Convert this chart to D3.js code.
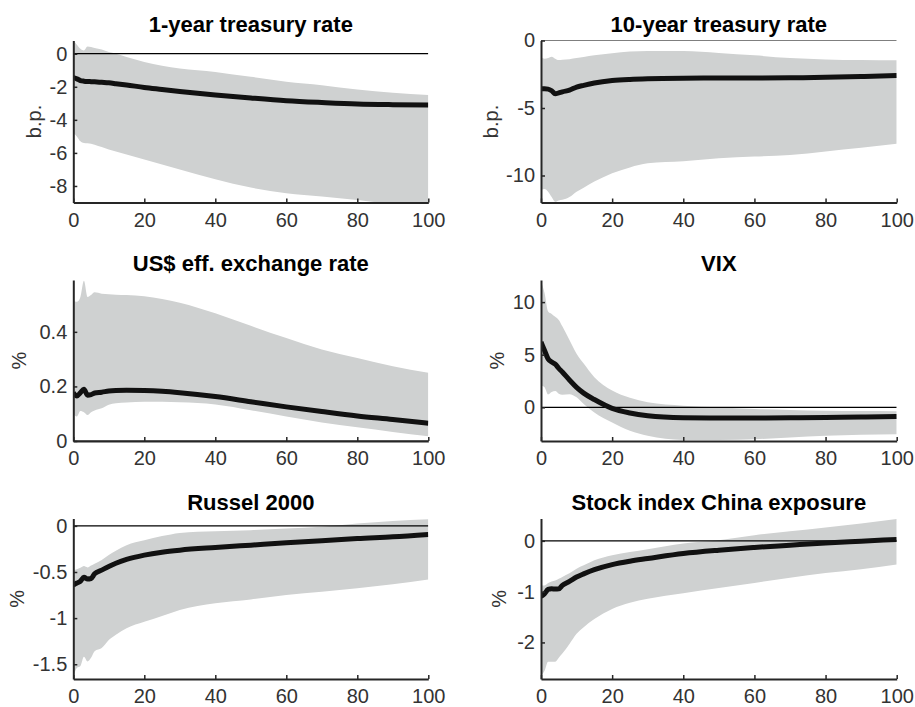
<!DOCTYPE html>
<html><head><meta charset="utf-8">
<script src="https://cdn.jsdelivr.net/npm/d3@7/dist/d3.min.js"></script>
<style>
body{margin:0;background:#fff;}
svg{display:block;font-family:"Liberation Sans",Arial,Helvetica,sans-serif;}
</style></head>
<body><svg id="chart" width="915" height="707"></svg>
<script>
// ---- data ----
const horizons = [0,1,2,3,4,5,6,8,10,12,15,20,25,30,40,50,60,70,80,90,100];
const xTicks = [0,20,40,60,80,100];

const titles = ["1-year treasury rate","10-year treasury rate","US$ eff. exchange rate","VIX","Russel 2000","Stock index China exposure"];
const units = ["b.p.","b.p.","%","%","%","%"];

const oneYearMean  = [-1.44,-1.52,-1.62,-1.66,-1.68,-1.69,-1.70,-1.73,-1.76,-1.81,-1.89,-2.04,-2.16,-2.28,-2.50,-2.68,-2.84,-2.95,-3.04,-3.08,-3.10];
const oneYearUpper = [0.80,0.55,0.30,0.20,0.44,0.40,0.35,0.25,0.10,0.00,-0.20,-0.50,-0.72,-0.90,-1.10,-1.40,-1.70,-1.90,-2.16,-2.36,-2.50];
const oneYearLower = [-4.80,-5.00,-5.30,-5.40,-5.42,-5.45,-5.50,-5.65,-5.80,-5.92,-6.10,-6.40,-6.70,-7.00,-7.60,-8.10,-8.44,-8.64,-8.85,-9.10,-9.30];

const tenYearMean  = [-3.58,-3.58,-3.60,-3.72,-3.95,-3.88,-3.80,-3.68,-3.45,-3.32,-3.15,-2.97,-2.88,-2.83,-2.79,-2.78,-2.78,-2.76,-2.73,-2.67,-2.60];
const tenYearUpper = [-1.20,-1.35,-1.30,-1.20,-1.35,-1.45,-1.42,-1.38,-1.30,-1.22,-1.10,-0.95,-0.82,-0.78,-0.78,-0.92,-1.10,-1.30,-1.40,-1.45,-1.47];
const tenYearLower = [-11.08,-11.00,-11.20,-11.60,-11.95,-11.85,-11.80,-11.60,-11.20,-10.90,-10.45,-9.83,-9.40,-9.10,-8.95,-8.72,-8.60,-8.48,-8.22,-7.95,-7.65];

const usdMean  = [0.177,0.165,0.177,0.190,0.168,0.170,0.176,0.179,0.183,0.185,0.186,0.185,0.182,0.177,0.163,0.144,0.125,0.108,0.092,0.079,0.065];
const usdUpper = [0.516,0.510,0.528,0.587,0.528,0.535,0.545,0.540,0.538,0.536,0.535,0.530,0.520,0.507,0.468,0.422,0.377,0.335,0.304,0.274,0.250];
const usdLower = [0.098,0.090,0.110,0.105,0.095,0.105,0.112,0.120,0.133,0.138,0.141,0.144,0.144,0.142,0.134,0.113,0.090,0.068,0.050,0.033,0.017];

const vixMean  = [6.20,5.40,4.60,4.30,4.10,3.70,3.35,2.60,1.90,1.35,0.74,-0.10,-0.54,-0.80,-0.99,-1.02,-1.02,-1.00,-0.96,-0.92,-0.86];
const vixUpper = [11.97,10.86,9.10,8.88,8.60,8.30,7.70,6.40,5.10,4.16,2.87,1.60,0.90,0.48,0.16,0.00,-0.16,-0.25,-0.32,-0.36,-0.38];
const vixLower = [2.08,1.90,1.22,1.45,1.55,1.30,1.20,1.25,0.96,0.32,-0.48,-1.44,-2.23,-2.71,-3.10,-3.10,-3.03,-2.87,-2.71,-2.60,-2.55];

const russelMean  = [-0.642,-0.620,-0.600,-0.558,-0.575,-0.570,-0.520,-0.480,-0.440,-0.405,-0.364,-0.317,-0.285,-0.263,-0.234,-0.209,-0.184,-0.162,-0.137,-0.119,-0.093];
const russelUpper = [-0.480,-0.470,-0.455,-0.436,-0.450,-0.430,-0.410,-0.370,-0.317,-0.270,-0.209,-0.155,-0.111,-0.076,-0.057,-0.047,-0.028,-0.010,0.026,0.054,0.072];
const russelLower = [-1.634,-1.540,-1.520,-1.420,-1.470,-1.430,-1.360,-1.325,-1.237,-1.180,-1.110,-1.040,-0.977,-0.912,-0.840,-0.797,-0.750,-0.714,-0.677,-0.634,-0.580];

const chinaMean  = [-1.095,-1.040,-0.957,-0.945,-0.950,-0.945,-0.877,-0.798,-0.713,-0.650,-0.567,-0.467,-0.400,-0.349,-0.250,-0.184,-0.131,-0.085,-0.040,-0.006,0.027];
const chinaUpper = [-0.877,-0.877,-0.830,-0.800,-0.780,-0.745,-0.710,-0.640,-0.547,-0.480,-0.382,-0.283,-0.220,-0.164,-0.052,0.013,0.112,0.190,0.264,0.343,0.430];
const chinaLower = [-2.660,-2.560,-2.380,-2.380,-2.380,-2.300,-2.220,-2.030,-1.830,-1.700,-1.540,-1.340,-1.220,-1.140,-1.030,-0.930,-0.830,-0.725,-0.634,-0.560,-0.467];

const yDomains = [[-9,0.8],[-12,0],[0,0.59],[-3.2,12.1],[-1.66,0.08],[-2.72,0.44]];
const yTicks = [[-8,-6,-4,-2,0],[-10,-5,0],[0,0.2,0.4],[0,5,10],[-1.5,-1,-0.5,0],[-2,-1,0]];

const means  = [oneYearMean, tenYearMean, usdMean, vixMean, russelMean, chinaMean];
const uppers = [oneYearUpper, tenYearUpper, usdUpper, vixUpper, russelUpper, chinaUpper];
const lowers = [oneYearLower, tenYearLower, usdLower, vixLower, russelLower, chinaLower];

// ---- layout ----
const colX = [[73.3,428.3],[541,896.7]];
const rowY = [[40.5,202.5],[280,441],[518.5,679]];
const ylabOffset = [-32,-43,-47,-37,-49,-35];

const svg = d3.select("#chart");
const axisColor = "#262626";

titles.forEach((t,i)=>{
  const c = colX[i%2], r = rowY[Math.floor(i/2)];
  const x = d3.scaleLinear().domain([0,100]).range(c);
  const y = d3.scaleLinear().domain(yDomains[i]).range([r[1],r[0]]);
  const g = svg.append("g");
  const cid = "clip"+i;
  svg.append("clipPath").attr("id",cid).append("rect")
    .attr("x",c[0]).attr("y",r[0]).attr("width",c[1]-c[0]).attr("height",r[1]-r[0]);
  const pts = horizons.map((h,k)=>({h, m:means[i][k], u:uppers[i][k], l:lowers[i][k]}));
  const plot = g.append("g").attr("clip-path",`url(#${cid})`);
  plot.append("path").datum(pts)
    .attr("d", d3.area().x(d=>x(d.h)).y0(d=>y(d.l)).y1(d=>y(d.u)).curve(d3.curveMonotoneX))
    .attr("fill","#cfd1d1");
  plot.append("line").attr("x1",c[0]).attr("x2",c[1]).attr("y1",y(0)).attr("y2",y(0))
    .attr("stroke","#000").attr("stroke-width",1.2);
  plot.append("path").datum(pts)
    .attr("d", d3.line().x(d=>x(d.h)).y(d=>y(d.m)).curve(d3.curveMonotoneX))
    .attr("fill","none").attr("stroke","#111").attr("stroke-width",5)
    .attr("stroke-linejoin","round");

  // axes
  const xa = g.append("g").attr("transform",`translate(0,${r[1]})`)
    .call(d3.axisBottom(x).tickValues(xTicks).tickSizeInner(-4).tickSizeOuter(0).tickPadding(7).tickFormat(d3.format("d")));
  const ya = g.append("g").attr("transform",`translate(${c[0]},0)`)
    .call(d3.axisLeft(y).tickValues(yTicks[i]).tickSizeInner(-4).tickSizeOuter(0).tickPadding(6).tickFormat(d=>String(d)));
  [xa,ya].forEach(a=>{
    a.select(".domain").attr("stroke",axisColor).attr("stroke-width",2);
    a.selectAll(".tick line").attr("stroke",axisColor).attr("stroke-width",1.5);
    a.selectAll(".tick text").attr("fill","#333").style("font-size","20px");
  });
  xa.selectAll(".tick text").attr("dy","0.85em");
  // title
  g.append("text").attr("x",(c[0]+c[1])/2).attr("y",r[0]-9).attr("text-anchor","middle")
    .style("font-size","22px").style("font-weight","bold").attr("fill","#000").text(t);
  // y label
  g.append("text").attr("transform",`translate(${c[0]+ylabOffset[i]},${(r[0]+r[1])/2}) rotate(-90)`)
    .attr("text-anchor","middle").style("font-size","20px").attr("fill","#333").text(units[i]);
});
</script></body></html>
